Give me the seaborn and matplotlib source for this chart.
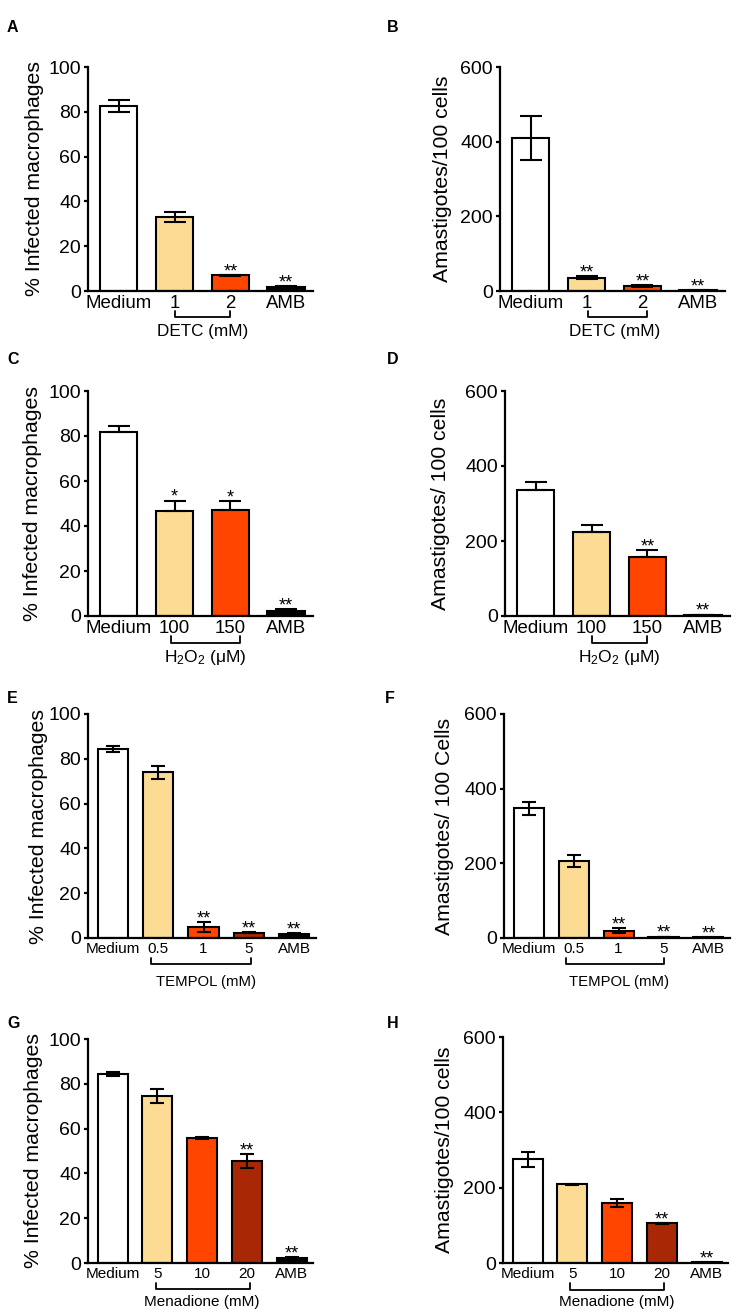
import numpy as np
import pandas as pd
import seaborn as sns
import matplotlib.pyplot as plt
from matplotlib.transforms import blended_transform_factory

sns.set_theme(style="ticks")
plt.rcParams['font.family'] = ['Liberation Sans', 'DejaVu Sans']
plt.rcParams['mathtext.fontset'] = 'custom'
plt.rcParams['mathtext.rm'] = 'Liberation Sans'
plt.rcParams['mathtext.it'] = 'Liberation Sans:italic'
plt.rcParams['axes.linewidth'] = 1.6
for key in ['text.color', 'axes.labelcolor', 'axes.edgecolor', 'xtick.color', 'ytick.color']:
    plt.rcParams[key] = 'black'

WHITE = "#FFFFFF"
YELLOW = "#FCDB94"
ORANGE = "#FF4500"
DARKRED = "#A82806"
BLACK = "#000000"

# ---- data ----
detc_labels = ["Medium", "1", "2", "AMB"]
a_infected = [82.5, 33.0, 7.0, 1.9]
a_err = [2.7, 2.2, 0.3, 0.3]
a_stars = ["", "", "**", "**"]
b_amast = [410, 36, 13, 2]
b_err = [60, 4, 3, 1]
b_stars = ["", "**", "**", "**"]

h2o2_labels = ["Medium", "100", "150", "AMB"]
c_infected = [81.6, 46.7, 47.2, 2.2]
c_err = [2.8, 4.6, 4.0, 1.0]
c_stars = ["", "*", "*", "**"]
d_amast = [335, 223, 158, 3]
d_err = [22, 20, 17, 1]
d_stars = ["", "", "**", "**"]

tempol_labels = ["Medium", "0.5", "1", "5", "AMB"]
e_infected = [84.4, 74.1, 4.8, 2.4, 1.8]
e_err = [1.3, 2.9, 2.2, 0.3, 0.3]
e_stars = ["", "", "**", "**", "**"]
f_amast = [347, 205, 20, 3, 2]
f_err = [17, 16, 7, 1, 1]
f_stars = ["", "", "**", "**", "**"]

mena_labels = ["Medium", "5", "10", "20", "AMB"]
g_infected = [84.3, 74.6, 55.7, 45.7, 2.4]
g_err = [0.8, 3.0, 0.5, 3.1, 0.3]
g_stars = ["", "", "", "**", "**"]
h_amast = [276, 209, 160, 105, 2]
h_err = [20, 2, 11, 2, 1]
h_stars = ["", "", "", "**", "**"]

colors4 = [WHITE, YELLOW, ORANGE, BLACK]
colors5 = [WHITE, YELLOW, ORANGE, DARKRED, BLACK]

infected_label = "% Infected macrophages"

W, H = 734, 1313
fig = plt.figure(figsize=(W / 100, H / 100), dpi=100)


def panel(letter, letter_xy, box, labels, values, errs, stars, colors, ymax,
          yticks, ylabel, ylabel_x, group, group_span, group_x, group_y,
          xfont, gfont, cap, upper_only=False):
    l, t, r, b = box
    ax = fig.add_axes([l / W, 1 - b / H, (r - l) / W, (b - t) / H])
    df = pd.DataFrame({"group": labels, "value": values})
    sns.barplot(data=df, x="group", y="value", hue="group",
                palette=dict(zip(labels, colors)), saturation=1,
                width=0.67, edgecolor="black", linewidth=1.5,
                errorbar=None, legend=False, ax=ax)
    errs = np.array(errs, dtype=float)
    lower = np.zeros_like(errs) if upper_only else errs
    ax.errorbar(np.arange(len(labels)), values, yerr=[lower, errs], fmt="none",
                ecolor="black", elinewidth=1.5, capsize=cap, capthick=1.5,
                zorder=3)
    for i, (v, e, s) in enumerate(zip(values, errs, stars)):
        if s:
            ax.annotate(s, (i, v + e), xytext=(0, -1), textcoords="offset points",
                        ha="center", va="baseline", fontsize=13)
    n = len(labels)
    ax.set_xlim(-0.55, n - 0.52)
    ax.set_ylim(0, ymax)
    ax.set_yticks(yticks)
    ax.set_xlabel("")
    ax.set_ylabel(ylabel, fontsize=15.3)
    ax.yaxis.set_label_coords(ylabel_x, 0.5)
    sns.despine(ax=ax)
    ax.tick_params(axis="y", length=3, width=1.6, pad=2, labelsize=14)
    ax.tick_params(axis="x", length=0, pad=3, labelsize=xfont)
    # bracket under the dose groups
    trans = blended_transform_factory(ax.transData, ax.transAxes)
    x0, x1 = group_span
    yb = -0.118
    ax.plot([x0, x0, x1, x1], [yb + 0.03, yb, yb, yb + 0.03], transform=trans,
            clip_on=False, color="black", lw=1.3)
    ax.text(group_x, group_y, group, transform=trans, ha="center", va="center",
            fontsize=gfont)
    fig.text(letter_xy[0] / W, 1 - letter_xy[1] / H, letter, fontweight="bold",
             fontsize=11.5, ha="left", va="center")
    return ax


panel("A", (7, 28), (88, 67, 313, 291), detc_labels, a_infected, a_err, a_stars,
      colors4, 100, [0, 20, 40, 60, 80, 100], infected_label, -0.196,
      "DETC (mM)", (1.0, 2.0), 1.5, -0.18, 13.4, 12.3, 8)
panel("B", (387, 28), (500, 67, 725, 291), detc_labels, b_amast, b_err, b_stars,
      colors4, 600, [0, 200, 400, 600], "Amastigotes/100 cells", -0.213,
      "DETC (mM)", (1.02, 2.08), 1.5, -0.18, 13.4, 12.3, 8)
panel("C", (7, 359), (88, 391, 313, 616), h2o2_labels, c_infected, c_err, c_stars,
      colors4, 100, [0, 20, 40, 60, 80, 100], infected_label, -0.204,
      "H$_2$O$_2$ (μM)", (0.93, 2.18), 1.55, -0.185, 13.4, 12.5, 8,
      upper_only=True)
panel("D", (387, 359), (505, 391, 730, 616), h2o2_labels, d_amast, d_err, d_stars,
      colors4, 600, [0, 200, 400, 600], "Amastigotes/ 100 cells", -0.244,
      "H$_2$O$_2$ (μM)", (1.0, 2.0), 1.5, -0.185, 13.4, 12.5, 8,
      upper_only=True)
panel("E", (7, 698), (88, 714, 316, 938), tempol_labels, e_infected, e_err, e_stars,
      colors5, 100, [0, 20, 40, 60, 80, 100], infected_label, -0.175,
      "TEMPOL (mM)", (0.85, 3.05), 2.05, -0.196, 11, 10.7, 5)
panel("F", (385, 698), (504, 714, 730, 938), tempol_labels, f_amast, f_err, f_stars,
      colors5, 600, [0, 200, 400, 600], "Amastigotes/ 100 Cells", -0.221,
      "TEMPOL (mM)", (0.84, 3.02), 2.0, -0.196, 11, 10.7, 5)
panel("G", (7, 1024), (88, 1039, 313, 1263), mena_labels, g_infected, g_err, g_stars,
      colors5, 100, [0, 20, 40, 60, 80, 100], infected_label, -0.2,
      "Menadione (mM)", (0.96, 3.08), 2.0, -0.174, 11, 11, 5)
panel("H", (387, 1023), (503, 1037, 728, 1263), mena_labels, h_amast, h_err, h_stars,
      colors5, 600, [0, 200, 400, 600], "Amastigotes/100 cells", -0.218,
      "Menadione (mM)", (0.94, 3.05), 2.0, -0.174, 11, 11, 5)

fig.savefig("out.png", dpi=100, facecolor="white")
